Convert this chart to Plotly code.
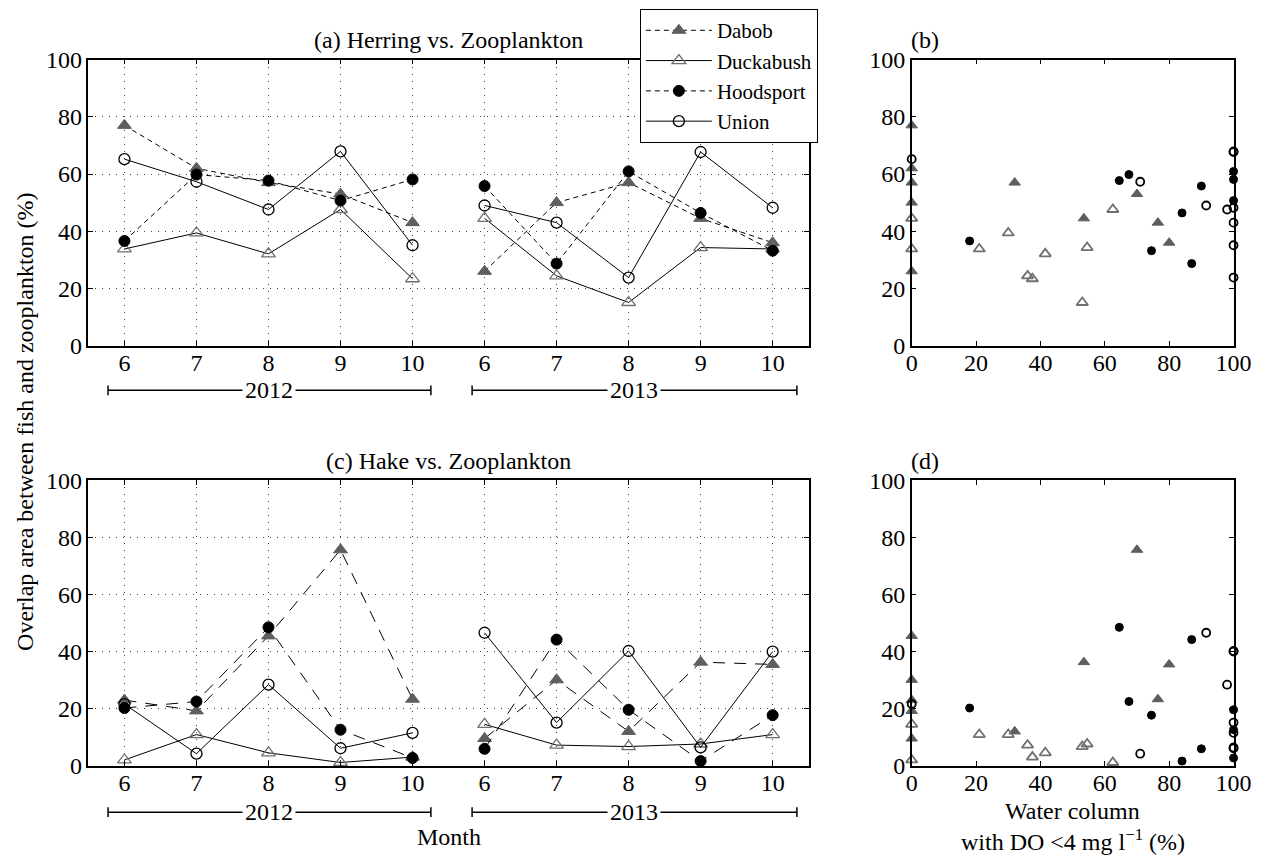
import plotly.graph_objects as go

# ---------------- data ----------------
months = [6, 7, 8, 9, 10]
years = ["2012", "2013"]
sites = ["Dabob", "Duckabush", "Hoodsport", "Union"]

# overlap (%) herring vs zooplankton, 2012 Jun-Oct then 2013 Jun-Oct
herring_dabob = [77, 62, 57, 53, 43, 26, 50, 57, 44.5, 36]
herring_duckabush = [33.8, 39.4, 32.1, 47.6, 23.4, 44.5, 24.4, 15.1, 34.3, 33.8]
herring_hoodsport = [36.6, 59.8, 57.7, 50.7, 58.1, 55.8, 28.7, 60.9, 46.4, 33.2]
herring_union = [65.2, 57.3, 47.6, 67.9, 35.1, 49, 43, 23.8, 67.7, 48.2]

# overlap (%) hake vs zooplankton
hake_dabob = [23, 19.2, 45.5, 75.7, 23.3, 9.5, 30.1, 12, 36.3, 35.5]
hake_duckabush = [2, 10.9, 4.5, 1.1, 3, 14.5, 7.2, 6.7, 7.6, 10.9]
hake_hoodsport = [20.2, 22.5, 48.5, 12.6, 2.7, 5.9, 44.2, 19.6, 1.6, 17.7]
hake_union = [21.6, 4.2, 28.4, 6.1, 11.5, 46.6, 15.1, 40.2, 6.4, 40]

# water column with DO < 4 mg/l (%)
do_dabob = [0, 0, 0, 70, 76.5, 0, 0, 32, 53.5, 80]
do_duckabush = [0, 30, 41.5, 62.5, 37.5, 0, 36, 53, 54.5, 21]
do_hoodsport = [18, 67.5, 64.5, 100, 100, 90, 87, 100, 84, 74.5]
do_union = [0, 71, 98, 100, 100, 91.5, 100, 100, 100, 100]

herring = {"Dabob": herring_dabob, "Duckabush": herring_duckabush,
           "Hoodsport": herring_hoodsport, "Union": herring_union}
hake = {"Dabob": hake_dabob, "Duckabush": hake_duckabush,
        "Hoodsport": hake_hoodsport, "Union": hake_union}
do = {"Dabob": do_dabob, "Duckabush": do_duckabush,
      "Hoodsport": do_hoodsport, "Union": do_union}

# ---------------- styles ----------------
FONT = "Liberation Serif"
GRAY = "#5e5e5e"
LGRAY = "#707070"
style = {
    "Dabob": dict(symbol="triangle-up", color=GRAY, lc=GRAY, dashed=True, lw=1),
    "Duckabush": dict(symbol="triangle-up-open", color=LGRAY, lc=LGRAY, dashed=False, lw=1.3),
    "Hoodsport": dict(symbol="circle", color="black", lc="black", dashed=True, lw=1),
    "Union": dict(symbol="circle-open", color="black", lc="black", dashed=False, lw=1.3),
}

n = len(months)
xpos = list(range(len(years) * n))


def split(vals):
    xs, ys = [], []
    for k in range(len(years)):
        xs += xpos[k * n:(k + 1) * n] + [None]
        ys += vals[k * n:(k + 1) * n] + [None]
    return xs, ys


fig = go.Figure()

for panel, data, xa, ya, dash in [("a", herring, "x", "y", "5px,4px"),
                                  ("c", hake, "x3", "y3", "12px,9px")]:
    for s in sites:
        st = style[s]
        xs, ys = split(data[s])
        msize = 12 if "triangle" in st["symbol"] else 11
        fig.add_trace(go.Scatter(
            x=xs, y=ys, xaxis=xa, yaxis=ya, mode="lines+markers", name=s,
            showlegend=(panel == "a"), legendgroup=s, connectgaps=False,
            line=dict(color="black", width=1, dash=dash if st["dashed"] else "solid"),
            marker=dict(symbol=st["symbol"], size=msize, color=st["color"],
                        line=dict(color=st["lc"], width=st["lw"])),
            cliponaxis=False,
        ))

for data, xa, ya in [(herring, "x2", "y2"), (hake, "x4", "y4")]:
    for s in sites:
        st = style[s]
        msize = 10 if "triangle" in st["symbol"] else 8
        fig.add_trace(go.Scatter(
            x=do[s], y=data[s], xaxis=xa, yaxis=ya, mode="markers", name=s,
            showlegend=False, legendgroup=s,
            marker=dict(symbol=st["symbol"], size=msize, color=st["color"],
                        line=dict(color=st["lc"], width=1.8 if "open" in st["symbol"] else 1)),
            cliponaxis=False,
        ))

W, H = 1280, 864


def px(x):
    return x / W


def py(y):
    return 1 - y / H


FS = 24
tickfont = dict(family=FONT, size=FS, color="black")
time_ticktext = [str(m) for m in months] * len(years)

common_axis = dict(showline=True, linecolor="black", linewidth=1.5, mirror="ticks",
                   ticks="inside", ticklen=5, tickcolor="black", tickfont=tickfont,
                   zeroline=False)
xcommon = dict(common_axis, ticklabelstandoff=-5)
grid = dict(showgrid=True, gridcolor="#444", gridwidth=1, griddash="1px,6px")

layout = dict(
    width=W, height=H, margin=dict(l=0, r=0, t=0, b=0),
    paper_bgcolor="white", plot_bgcolor="white",
    font=dict(family=FONT, size=FS, color="black"),
    xaxis=dict(domain=[px(84), px(818)], range=[-0.5, 9.5], tickvals=xpos,
               ticktext=time_ticktext, anchor="y", **xcommon, **grid),
    yaxis=dict(domain=[py(343), py(48)], range=[0, 100], dtick=20, anchor="x",
               **common_axis, **grid),
    xaxis2=dict(domain=[px(923), px(1251)], range=[0, 100], dtick=20, anchor="y2",
                showgrid=False, **xcommon),
    yaxis2=dict(domain=[py(343), py(48)], range=[0, 100], dtick=20, anchor="x2",
                showgrid=False, **common_axis),
    xaxis3=dict(domain=[px(84), px(818)], range=[-0.5, 9.5], tickvals=xpos,
                ticktext=time_ticktext, anchor="y3", **xcommon, **grid),
    yaxis3=dict(domain=[py(776), py(482)], range=[0, 100], dtick=20, anchor="x3",
                **common_axis, **grid),
    xaxis4=dict(domain=[px(923), px(1251)], range=[0, 100], dtick=20, anchor="y4",
                showgrid=False, **xcommon),
    yaxis4=dict(domain=[py(776), py(482)], range=[0, 100], dtick=20, anchor="x4",
                showgrid=False, **common_axis),
    legend=dict(x=px(646), y=py(-4), xanchor="left", yanchor="top",
                bgcolor="white", bordercolor="black", borderwidth=1,
                font=dict(family=FONT, size=21, color="black"),
                tracegroupgap=0, itemwidth=66),
)
fig.update_layout(**layout)

annotations = [
    dict(text="(a) Herring vs. Zooplankton", x=px(451), y=py(28)),
    dict(text="(c) Hake vs. Zooplankton", x=px(451), y=py(462)),
    dict(text="(b)", x=px(937), y=py(28)),
    dict(text="(d)", x=px(937), y=py(462)),
    dict(text="Month", x=px(451), y=py(850)),
    dict(text="Water column", x=px(1087), y=py(823)),
    dict(text="with DO &lt;4 mg l<sup>−1</sup> (%)", x=px(1087), y=py(853)),
    dict(text="Overlap area between fish and zooplankton (%)", x=px(20), y=py(422),
         textangle=-90),
]
for a in annotations:
    fig.add_annotation(xref="paper", yref="paper", showarrow=False,
                       xanchor="center", yanchor="middle",
                       font=dict(family=FONT, size=FS, color="black"), **a)

# year brackets beneath the time axes
shapes = []
for ybr in [389, 824]:
    for (x0, x1), yr in zip([(104, 433), (475, 806)], years):
        shapes.append(dict(type="line", xref="paper", yref="paper",
                           x0=px(x0), x1=px(x1), y0=py(ybr), y1=py(ybr),
                           line=dict(color="black", width=1.5)))
        for xe in (x0, x1):
            shapes.append(dict(type="line", xref="paper", yref="paper",
                               x0=px(xe), x1=px(xe), y0=py(ybr - 5), y1=py(ybr + 5),
                               line=dict(color="black", width=1.5)))
        fig.add_annotation(xref="paper", yref="paper", showarrow=False,
                           x=px((x0 + x1) / 2), y=py(ybr), text=yr,
                           xanchor="center", yanchor="middle", bgcolor="white",
                           borderpad=2,
                           font=dict(family=FONT, size=FS, color="black"))
fig.update_layout(shapes=shapes)

fig.write_html("out.html")
